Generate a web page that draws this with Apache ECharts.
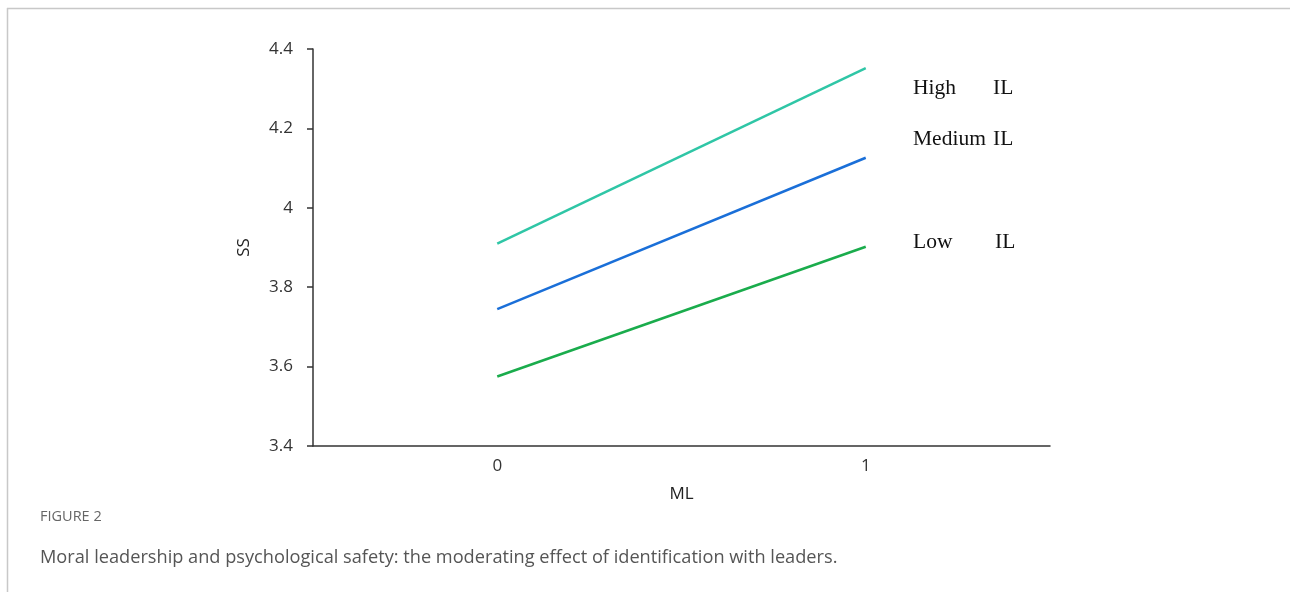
<!DOCTYPE html>
<html>
<head>
<meta charset="utf-8">
<script src="https://cdn.jsdelivr.net/npm/echarts@6/dist/echarts.min.js"></script>
<style>
html,body{margin:0;padding:0;background:#fff;}
#chart{width:1290px;height:592px;}
</style>
</head>
<body>
<div id="chart"></div>
<script>
const xValues = [0, 1];
const seriesNames = ['High', 'Medium', 'Low'];
const highIL = [3.91, 4.352];
const mediumIL = [3.745, 4.126];
const lowIL = [3.575, 3.902];
const yTicks = [3.4, 3.6, 3.8, 4, 4.2, 4.4];
const xTicks = [0, 1];
const labelNames = ['High', 'Medium', 'Low'];
const labelSuffix = 'IL';
const xName = 'ML';
const yName = 'SS';
const figureLabel = 'FIGURE 2';
const caption = 'Moral leadership and psychological safety: the moderating effect of identification with leaders.';

const colors = ['#2fc6a6', '#1a6fd8', '#1aac4c'];
const seriesData = [highIL, mediumIL, lowIL];

const chart = echarts.init(document.getElementById('chart'), null, {renderer: 'canvas'});

const labelY = [88, 139, 242];
const nameX = [913, 913, 913];
const suffixX = [993, 993, 995];

const graphics = [
  {type: 'line', shape: {x1: 7, y1: 8.5, x2: 1290, y2: 8.5}, style: {stroke: '#c8c8c8', lineWidth: 1.5}, silent: true},
  {type: 'line', shape: {x1: 7.5, y1: 8, x2: 7.5, y2: 592}, style: {stroke: '#c8c8c8', lineWidth: 1.5}, silent: true},
  {type: 'text', left: 40, top: 509, style: {text: figureLabel, font: '14.5px "Open Sans", sans-serif', fill: '#666'}},
  {type: 'text', left: 40, top: 549, style: {text: caption, font: '18.2px "Open Sans", sans-serif', fill: '#555'}}
];
labelNames.forEach((n, i) => {
  graphics.push({type: 'text', x: nameX[i], y: labelY[i], style: {text: n, font: '21.5px "Liberation Serif", "Times New Roman", serif', fill: '#111', verticalAlign: 'middle'}});
  graphics.push({type: 'text', x: suffixX[i], y: labelY[i], style: {text: labelSuffix, font: '21.5px "Liberation Serif", "Times New Roman", serif', fill: '#111', verticalAlign: 'middle'}});
});

chart.setOption({
  animation: false,
  backgroundColor: '#fff',
  grid: {left: 313, right: 240, top: 49, bottom: 146, containLabel: false},
  xAxis: {
    type: 'value', min: -0.5, max: 1.5, interval: 0.5,
    name: xName, nameLocation: 'middle', nameGap: 40,
    nameTextStyle: {fontSize: 17, color: '#222', fontFamily: '"Open Sans", sans-serif'},
    axisLine: {show: true, onZero: false, lineStyle: {color: '#333', width: 1.5}},
    axisTick: {show: false},
    splitLine: {show: false},
    axisLabel: {
      fontSize: 17, color: '#333', margin: 12, fontFamily: '"Open Sans", sans-serif',
      formatter: v => xTicks.indexOf(v) >= 0 ? String(v) : ''
    }
  },
  yAxis: {
    type: 'value', min: 3.4, max: 4.4, interval: 0.2,
    name: yName, nameLocation: 'middle', nameGap: 60,
    nameTextStyle: {fontSize: 17, color: '#222', fontFamily: '"Open Sans", sans-serif'},
    axisLine: {show: true, onZero: false, lineStyle: {color: '#333', width: 1.5}},
    axisTick: {show: true, length: 6, lineStyle: {color: '#333', width: 1.5}},
    splitLine: {show: false},
    axisLabel: {
      fontSize: 17, color: '#333', margin: 20, fontFamily: '"Open Sans", sans-serif',
      formatter: v => { const t = yTicks.find(k => Math.abs(k - v) < 1e-6); return t === undefined ? '' : String(t); }
    }
  },
  series: seriesData.map((d, i) => ({
    name: seriesNames[i],
    type: 'line',
    data: xValues.map((x, j) => [x, d[j]]),
    symbol: 'none',
    lineStyle: {color: colors[i], width: 2.5},
    itemStyle: {color: colors[i]}
  })),
  graphic: graphics
});
</script>
</body>
</html>
